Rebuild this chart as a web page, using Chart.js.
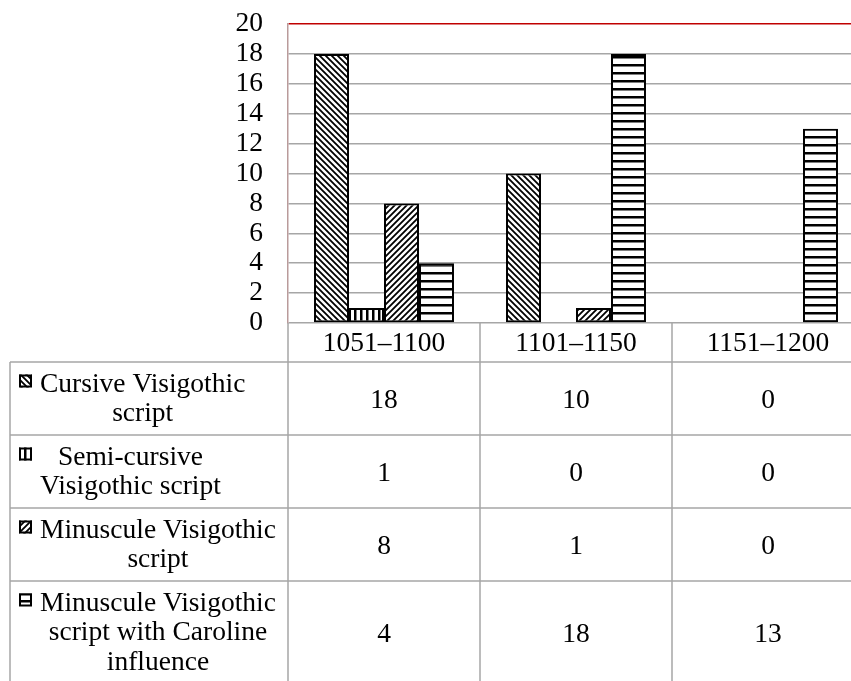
<!DOCTYPE html>
<html>
<head>
<meta charset="utf-8">
<script src="https://cdn.jsdelivr.net/npm/chart.js@4/dist/chart.umd.min.js"></script>
<style>
  html, body { margin: 0; padding: 0; overflow: hidden; background: #fff; }
  canvas { display: block; }
</style>
</head>
<body>
<canvas id="chart" width="870" height="681"></canvas>
<script>
// Datos
const categories = ['1051–1100', '1101–1150', '1151–1200'];
const seriesLabels = [
    ['Cursive Visigothic', 'script'],
    ['Semi-cursive', 'Visigothic script'],
    ['Minuscule Visigothic', 'script'],
    ['Minuscule Visigothic', 'script with Caroline', 'influence']
];
const cursive = [18, 10, 0];
const semiCursive = [1, 0, 0];
const minuscule = [8, 1, 0];
const minusculeCaroline = [4, 18, 13];
const yMin = 0, yMax = 20, yStep = 2;

const FONT = "'Liberation Serif', 'Times New Roman', serif";
const FONT_SIZE = 27.5;
const LINE_H = 29.5;
const TABLE_LINE = '#a6a6a6';

// Tramas (patrones) para las barras
function makePattern(kind) {
    const size = kind === 'horiz' ? 8 : 6;
    const c = document.createElement('canvas');
    c.width = size; c.height = size;
    const g = c.getContext('2d');
    g.fillStyle = '#fff';
    g.fillRect(0, 0, size, size);
    g.strokeStyle = '#000';
    g.fillStyle = '#000';
    g.lineWidth = 1.8;
    if (kind === 'down') {
        g.beginPath();
        g.moveTo(-1, -1); g.lineTo(size + 1, size + 1);
        g.moveTo(-2, size - 2); g.lineTo(2, size + 2);
        g.moveTo(size - 2, -2); g.lineTo(size + 2, 2);
        g.stroke();
    } else if (kind === 'up') {
        g.beginPath();
        g.moveTo(-1, size + 1); g.lineTo(size + 1, -1);
        g.moveTo(-2, 2); g.lineTo(2, -2);
        g.moveTo(size - 2, size + 2); g.lineTo(size + 2, size - 2);
        g.stroke();
    } else if (kind === 'vert') {
        g.fillRect(0, 0, 2.5, size);
    } else if (kind === 'horiz') {
        g.fillRect(0, 0, size, 2.5);
    }
    return g.createPattern(c, 'repeat');
}

const patterns = [makePattern('down'), makePattern('vert'), makePattern('up'), makePattern('horiz')];
const seriesValues = [cursive, semiCursive, minuscule, minusculeCaroline];

// Plugin para dibujar la tabla de datos debajo del gráfico
const dataTablePlugin = {
    id: 'dataTable',
    afterDraw(chart) {
        const ctx = chart.ctx;
        const x = chart.scales.x;
        const area = chart.chartArea;
        const catW = (area.right - area.left) / categories.length;
        const headerBottom = area.bottom + 39;
        const tableLeft = 10;
        const right = chart.width;

        // alturas de las filas
        const rows = [];
        let top = headerBottom;
        seriesLabels.forEach(lines => {
            const h = 14 + lines.length * LINE_H;
            rows.push({ top: top, h: h, lines: lines });
            top += h;
        });

        ctx.save();
        ctx.strokeStyle = TABLE_LINE;
        ctx.lineWidth = 1.5;
        ctx.beginPath();
        // líneas horizontales
        rows.forEach(r => {
            ctx.moveTo(tableLeft, r.top);
            ctx.lineTo(right, r.top);
        });
        // líneas verticales
        ctx.moveTo(tableLeft, headerBottom);
        ctx.lineTo(tableLeft, chart.height);
        for (let i = 0; i <= categories.length; i++) {
            const cx = area.left + i * catW;
            ctx.moveTo(cx, area.bottom);
            ctx.lineTo(cx, chart.height);
        }
        ctx.stroke();

        ctx.fillStyle = '#000';
        ctx.font = FONT_SIZE + 'px ' + FONT;
        ctx.textBaseline = 'alphabetic';

        rows.forEach((r, si) => {
            const firstBase = r.top + 29.5;
            // clave de la leyenda
            const kx = 19, ky = firstBase - 17, ks = 13;
            ctx.fillStyle = patterns[si];
            ctx.fillRect(kx, ky, ks, ks);
            ctx.strokeStyle = '#000';
            ctx.lineWidth = 2;
            ctx.strokeRect(kx + 1, ky + 1, ks - 2, ks - 2);

            // texto de la serie, centrado en su bloque
            ctx.fillStyle = '#000';
            const widths = r.lines.map(l => ctx.measureText(l).width);
            const blockW = Math.max.apply(null, widths);
            const blockLeft = 40;
            ctx.textAlign = 'center';
            r.lines.forEach((l, li) => {
                ctx.fillText(l, blockLeft + blockW / 2, firstBase + li * LINE_H);
            });

            // valores
            const midBase = firstBase + (r.lines.length - 1) * LINE_H / 2 + 2;
            seriesValues[si].forEach((v, ci) => {
                ctx.fillText(String(v), x.getPixelForValue(ci), midBase);
            });
        });
        ctx.restore();
    }
};

const ctx = document.getElementById('chart').getContext('2d');
const chart = new Chart(ctx, {
    type: 'bar',
    data: {
        labels: categories,
        datasets: seriesValues.map((vals, i) => ({
            label: seriesLabels[i].join(' '),
            data: vals,
            backgroundColor: patterns[i],
            borderColor: '#000',
            borderWidth: 2,
            borderSkipped: false,
            categoryPercentage: 0.729,
            barPercentage: 1
        }))
    },
    options: {
        responsive: false,
        animation: false,
        layout: {
            padding: { top: 24, left: 0, right: 6, bottom: 319 }
        },
        plugins: {
            legend: { display: false },
            tooltip: { enabled: false }
        },
        scales: {
            x: {
                grid: { display: false, drawTicks: false },
                border: { display: false },
                ticks: {
                    color: '#000',
                    padding: 4,
                    maxRotation: 0,
                    font: { family: FONT, size: FONT_SIZE }
                },
                afterFit(scale) { scale.height = 39; }
            },
            y: {
                min: yMin,
                max: yMax,
                ticks: {
                    stepSize: yStep,
                    autoSkip: false,
                    color: '#000',
                    padding: 0,
                    font: { family: FONT, size: FONT_SIZE, lineHeight: 1 }
                },
                grid: {
                    drawTicks: true,
                    tickLength: 25,
                    tickColor: 'rgba(0,0,0,0)',
                    lineWidth: 1.5,
                    color: c => c.tick && c.tick.value === yMax ? '#c00000' : '#a6a6a6'
                },
                border: { color: '#b99b9b', width: 1.5 },
                afterFit(scale) { scale.width = 288; }
            }
        }
    },
    plugins: [dataTablePlugin]
});
</script>
</body>
</html>
